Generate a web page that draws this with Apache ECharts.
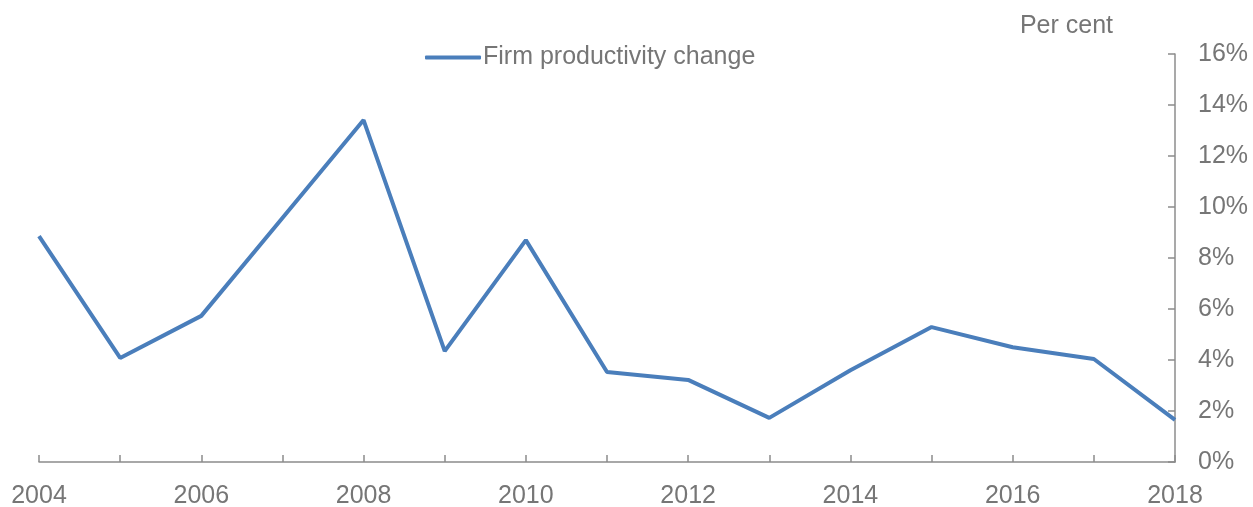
<!DOCTYPE html>
<html>
<head>
<meta charset="utf-8">
<script src="https://cdn.jsdelivr.net/npm/echarts@6/dist/echarts.min.js"></script>
<style>
  html, body { margin: 0; padding: 0; background: #fff; }
  #main { width: 1253px; height: 507px; }
</style>
</head>
<body>
<div id="main"></div>
<script>
// years on the x axis
var years = ['2004', '2005', '2006', '2007', '2008', '2009', '2010', '2011',
  '2012', '2013', '2014', '2015', '2016', '2017', '2018'];
// firm productivity change, per cent
var productivity = [8.86, 4.08, 5.73, 9.57, 13.41, 4.35, 8.7, 3.53,
  3.22, 1.73, 3.6, 5.29, 4.5, 4.04, 1.65];

var textColor = '#767676';
var axisColor = '#8c8c8c';

var chart = echarts.init(document.getElementById('main'));

var option = {
  animation: false,
  textStyle: { fontFamily: 'Liberation Sans, Arial, sans-serif' },
  title: {
    text: 'Per cent',
    right: 140,
    top: 14,
    padding: 0,
    textStyle: { color: textColor, fontSize: 25, fontWeight: 'normal' }
  },
  legend: {
    top: 45,
    left: 425,
    padding: 0,
    itemWidth: 56,
    itemHeight: 4,
    itemGap: 4,
    textStyle: { color: textColor, fontSize: 25, padding: [0, 0, 0, -3] },
    data: [{ name: 'Firm productivity change', icon: 'roundRect' }]
  },
  grid: { left: 39, right: 78, top: 54, bottom: 45, outerBoundsMode: 'none' },
  xAxis: {
    type: 'category',
    data: years,
    boundaryGap: false,
    axisLine: { lineStyle: { color: axisColor, width: 1.5 } },
    axisTick: { inside: true, interval: 0, length: 7, lineStyle: { color: axisColor, width: 1.5 } },
    axisLabel: { interval: 1, color: textColor, fontSize: 25, margin: 22 }
  },
  yAxis: {
    type: 'value',
    position: 'right',
    min: 0,
    max: 16,
    interval: 2,
    splitLine: { show: false },
    axisLine: { show: true, lineStyle: { color: axisColor, width: 1.5 } },
    axisTick: { show: true, inside: true, length: 7, lineStyle: { color: axisColor, width: 1.5 } },
    axisLabel: { color: textColor, fontSize: 25, margin: 23, formatter: '{value}%' }
  },
  series: [{
    name: 'Firm productivity change',
    type: 'line',
    data: productivity,
    symbol: 'none',
    lineStyle: { color: '#4a7ebb', width: 4 },
    itemStyle: { color: '#4a7ebb' }
  }]
};

chart.setOption(option);
</script>
</body>
</html>
